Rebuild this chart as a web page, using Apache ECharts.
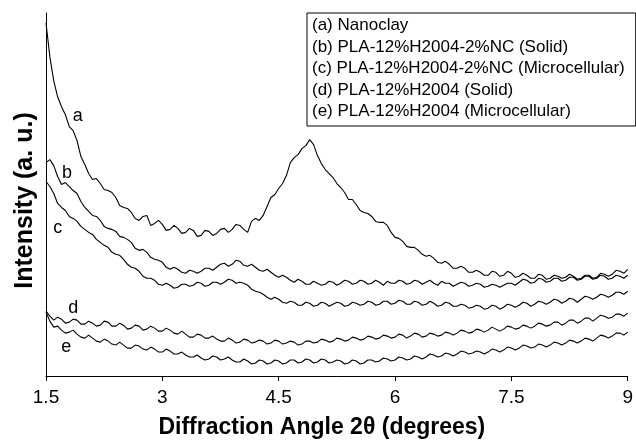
<!DOCTYPE html>
<html>
<head>
<meta charset="utf-8">
<script src="https://cdn.jsdelivr.net/npm/echarts@6/dist/echarts.min.js"></script>
<style>
  html, body { margin: 0; padding: 0; background: #fff; }
  #chart { width: 636px; height: 444px; }
</style>
</head>
<body>
<div id="chart"></div>
<script>
// 2theta (degrees), one row per degree
const angles = [
    1.5,1.55,1.6,1.65,1.7,1.75,1.8,1.85,1.9,1.95,2.0,2.05,2.1,2.15,2.2,2.25,2.3,2.35,2.4,2.45,
    2.5,2.55,2.6,2.65,2.7,2.75,2.8,2.85,2.9,2.95,3.0,3.05,3.1,3.15,3.2,3.25,3.3,3.35,3.4,3.45,
    3.5,3.55,3.6,3.65,3.7,3.75,3.8,3.85,3.9,3.95,4.0,4.05,4.1,4.15,4.2,4.25,4.3,4.35,4.4,4.45,
    4.5,4.55,4.6,4.65,4.7,4.75,4.8,4.85,4.9,4.95,5.0,5.05,5.1,5.15,5.2,5.25,5.3,5.35,5.4,5.45,
    5.5,5.55,5.6,5.65,5.7,5.75,5.8,5.85,5.9,5.95,6.0,6.05,6.1,6.15,6.2,6.25,6.3,6.35,6.4,6.45,
    6.5,6.55,6.6,6.65,6.7,6.75,6.8,6.85,6.9,6.95,7.0,7.05,7.1,7.15,7.2,7.25,7.3,7.35,7.4,7.45,
    7.5,7.55,7.6,7.65,7.7,7.75,7.8,7.85,7.9,7.95,8.0,8.05,8.1,8.15,8.2,8.25,8.3,8.35,8.4,8.45,
    8.5,8.55,8.6,8.65,8.7,8.75,8.8,8.85,8.9,8.95,9.0];

// intensities (arbitrary units)
const nanoclay = [
    354,320,296,280,270,262,250,246,236,220,212,203,197,198,193,187,186,184,179,171,
    169,168,164,158,156,160,161,151,153,156,152,146,147,151,148,143,144,148,146,140,
    141,146,145,141,143,147,148,144,147,152,151,147,144,155,158,156,161,170,179,182,
    188,193,201,214,219,222,228,231,237,232,221,213,207,203,199,193,189,184,177,177,
    172,166,164,163,160,155,154,154,151,144,139,138,135,130,129,129,126,122,120,121,
    118,114,113,115,112,108,108,110,108,104,104,106,104,101,101,105,104,100,101,105,
    103,99,100,103,101,98,98,102,101,97,98,101,100,98,99,102,100,97,98,101,
    101,98,99,103,102,100,102,106,105,103,107];
const ncSolid = [
    214,217,211,200,192,194,190,186,183,175,169,165,161,160,156,150,148,147,145,140,
    139,137,134,128,126,127,124,119,117,116,114,109,107,109,107,104,103,106,105,103,
    105,108,108,106,109,112,113,110,112,116,115,111,110,112,109,106,105,107,104,101,
    99,101,99,96,94,97,95,92,92,95,93,91,92,95,94,91,93,96,95,92,
    93,96,95,92,93,96,94,91,95,93,93,96,95,92,93,96,95,92,94,96,
    93,91,95,93,93,90,92,94,93,90,91,93,92,89,90,92,91,89,91,93,
    93,91,94,97,96,93,94,98,97,94,95,98,98,95,96,99,99,96,97,100,
    100,97,98,101,100,97,98,101,100,98,101];
const ncMicro = [
    195,190,183,173,169,166,160,158,155,150,147,144,142,137,134,131,129,124,122,121,
    117,112,109,108,105,100,98,98,96,92,91,93,91,88,89,92,92,90,91,94,
    93,90,91,94,94,92,94,97,96,93,94,93,91,87,85,84,82,79,77,79,
    77,74,73,75,74,71,71,74,73,70,71,74,73,70,72,74,73,70,71,74,
    73,71,72,75,74,71,72,75,75,72,73,76,75,72,72,75,74,71,72,75,
    73,70,71,74,73,70,70,72,71,68,69,71,70,67,68,71,70,67,69,72,
    71,69,71,74,73,70,72,75,74,72,74,77,76,73,75,78,77,74,77,80,
    79,77,79,82,81,79,81,84,84,82,85];
const plaSolid = [
    65,60,56,59,57,53,54,57,56,52,52,55,53,50,51,55,54,50,50,53,
    51,47,48,51,50,46,47,50,48,45,45,48,46,43,42,45,42,39,39,42,
    41,38,38,40,37,35,35,38,36,33,34,37,36,33,34,36,35,32,33,36,
    35,32,33,35,34,31,32,35,35,33,34,37,36,34,35,38,37,35,36,39,
    38,36,37,40,39,37,38,41,40,38,39,42,41,38,40,43,42,39,40,43,
    42,40,41,44,43,41,43,46,45,43,44,47,46,44,46,49,47,45,47,50,
    49,47,48,51,50,48,50,53,52,50,51,54,54,51,53,56,56,53,55,58,
    58,55,58,61,60,58,59,62,62,60,63];
const plaMicro = [
    64,55,49,50,46,43,44,46,42,39,38,41,38,35,34,37,35,32,31,34,
    31,28,28,31,30,27,26,29,27,24,24,27,25,22,22,24,21,19,19,21,
    18,16,17,20,19,16,17,19,16,14,14,17,15,12,13,16,15,12,13,16,
    15,12,13,16,16,13,14,17,16,13,14,17,16,13,14,16,15,12,13,16,
    15,12,13,16,16,14,15,18,17,15,16,19,18,16,17,20,19,17,19,22,
    21,19,20,23,22,20,22,25,24,22,23,25,24,22,24,27,26,24,26,29,
    28,26,28,31,30,28,29,32,31,29,31,34,33,31,33,36,35,33,35,38,
    37,35,38,41,40,38,40,43,43,41,44];

const seriesNames = [
    "(a) Nanoclay",
    "(b) PLA-12%H2004-2%NC (Solid)",
    "(c) PLA-12%H2004-2%NC (Microcellular)",
    "(d) PLA-12%H2004 (Solid)",
    "(e) PLA-12%H2004 (Microcellular)",
];
const curveLetters = ["a", "b", "c", "d", "e"];
const letterAt = [[1.91, 261], [1.77, 203.5], [1.65, 148], [1.85, 68.5], [1.76, 29.5]];
const xTicks = [1.5, 3, 4.5, 6, 7.5, 9];

const FONT = "'Liberation Sans', Arial, sans-serif";
const curves = [nanoclay, ncSolid, ncMicro, plaSolid, plaMicro];

const myChart = echarts.init(document.getElementById("chart"));

const option = {
    animation: false,
    backgroundColor: "#fff",
    textStyle: { fontFamily: FONT },
    grid: { left: 46, right: 5, top: 13, bottom: 67 },
    legend: {
        orient: "vertical",
        left: 307,
        top: 13,
        data: seriesNames,
        icon: "rect",
        itemWidth: 0,
        itemHeight: 0,
        itemGap: 4.5,
        padding: [4, 11, 6, 0],
        borderColor: "#000",
        borderWidth: 1,
        backgroundColor: "#fff",
        selectedMode: false,
        textStyle: { fontFamily: FONT, fontSize: 17, color: "#000", lineHeight: 17 },
    },
    xAxis: {
        type: "value",
        min: 1.5,
        max: 9,
        interval: 1.5,
        name: "Diffraction Angle 2\u03b8 (degrees)",
        nameLocation: "middle",
        nameGap: 40,
        nameTextStyle: {
            fontFamily: FONT, fontSize: 23, fontWeight: "bold", color: "#000",
            padding: [0, 30, 0, 0],
        },
        axisLine: { lineStyle: { color: "#000", width: 1 } },
        axisTick: { show: true, length: 5, lineStyle: { color: "#000" } },
        axisLabel: {
            margin: 12,
            fontSize: 19,
            color: "#000",
            fontFamily: FONT,
            formatter: (v) => (xTicks.includes(v) ? String(v) : ""),
        },
        splitLine: { show: false },
    },
    yAxis: {
        type: "value",
        min: 0,
        max: 364,
        name: "Intensity (a. u.)",
        nameLocation: "middle",
        nameGap: 8,
        nameTextStyle: {
            fontFamily: FONT, fontSize: 25, fontWeight: "bold", color: "#000",
            padding: [0, 12, 0, 0],
        },
        axisLine: { show: true, lineStyle: { color: "#000", width: 1 } },
        axisTick: { show: false },
        axisLabel: { show: false },
        splitLine: { show: false },
    },
    series: curves.map((vals, i) => ({
        name: seriesNames[i],
        type: "line",
        symbol: "none",
        smooth: false,
        lineStyle: { color: "#000", width: 1.1 },
        itemStyle: { color: "#000" },
        data: angles.map((a, k) => [a, vals[k]]),
        markPoint: {
            symbol: "circle",
            symbolSize: 0,
            label: {
                show: true,
                position: "inside",
                formatter: curveLetters[i],
                fontFamily: FONT,
                fontSize: 18,
                color: "#000",
            },
            data: [{ coord: letterAt[i] }],
        },
    })),
};

myChart.setOption(option);
</script>
</body>
</html>
